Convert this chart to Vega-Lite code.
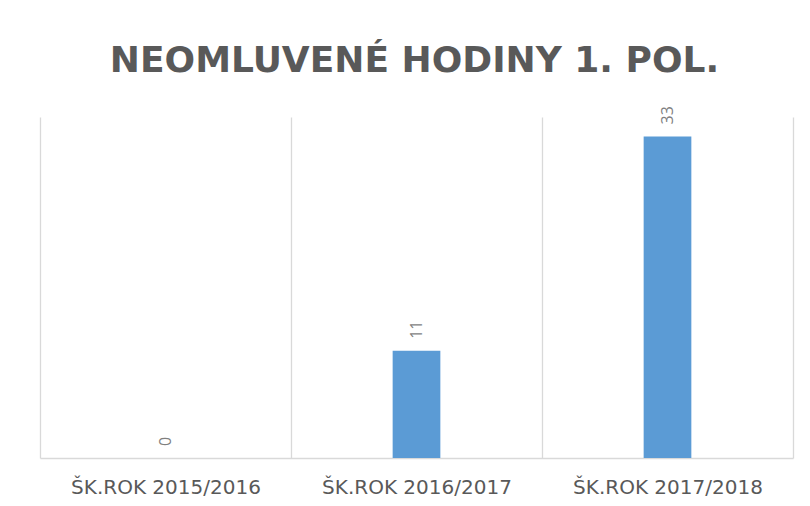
{
  "$schema": "https://vega.github.io/schema/vega-lite/v6.json",
  "autosize": "none",
  "width": 753,
  "height": 341,
  "padding": {"left": 40, "top": 117, "right": 17, "bottom": 48},
  "background": "white",
  "title": {
    "text": "NEOMLUVENÉ HODINY 1. POL.",
    "font": "DejaVu Sans",
    "fontSize": 36,
    "fontWeight": "bold",
    "color": "#595959",
    "anchor": "middle",
    "offset": 26,
    "dx": -2
  },
  "data": {
    "values": [
      {"rok": "ŠK.ROK 2015/2016", "hodiny": 0},
      {"rok": "ŠK.ROK 2016/2017", "hodiny": 11},
      {"rok": "ŠK.ROK 2017/2018", "hodiny": 33}
    ]
  },
  "encoding": {
    "x": {
      "field": "rok",
      "type": "nominal",
      "sort": null,
      "scale": {"paddingInner": 0, "paddingOuter": 0},
      "axis": {
        "title": null,
        "labelAngle": 0,
        "labelFont": "DejaVu Sans",
        "labelFontSize": 20,
        "labelLimit": 300,
        "labelColor": "#595959",
        "labelPadding": 19,
        "ticks": false,
        "grid": true,
        "gridColor": "#d9d9d9",
        "gridWidth": 1.3,
        "tickBand": "extent",
        "domainColor": "#d9d9d9",
        "domainWidth": 1.3
      }
    },
    "y": {
      "field": "hodiny",
      "type": "quantitative",
      "scale": {"domain": [0, 35], "nice": false},
      "axis": null
    }
  },
  "layer": [
    {
      "mark": {"type": "bar", "color": "#5B9BD5", "width": {"band": 0.19}}
    },
    {
      "mark": {
        "type": "text",
        "angle": 270,
        "align": "left",
        "baseline": "middle",
        "dx": 12,
        "font": "Open Sans",
        "fontSize": 16,
        "color": "#7f7f7f"
      },
      "encoding": {"text": {"field": "hodiny", "type": "quantitative"}}
    }
  ],
  "config": {"view": {"stroke": null}}
}
